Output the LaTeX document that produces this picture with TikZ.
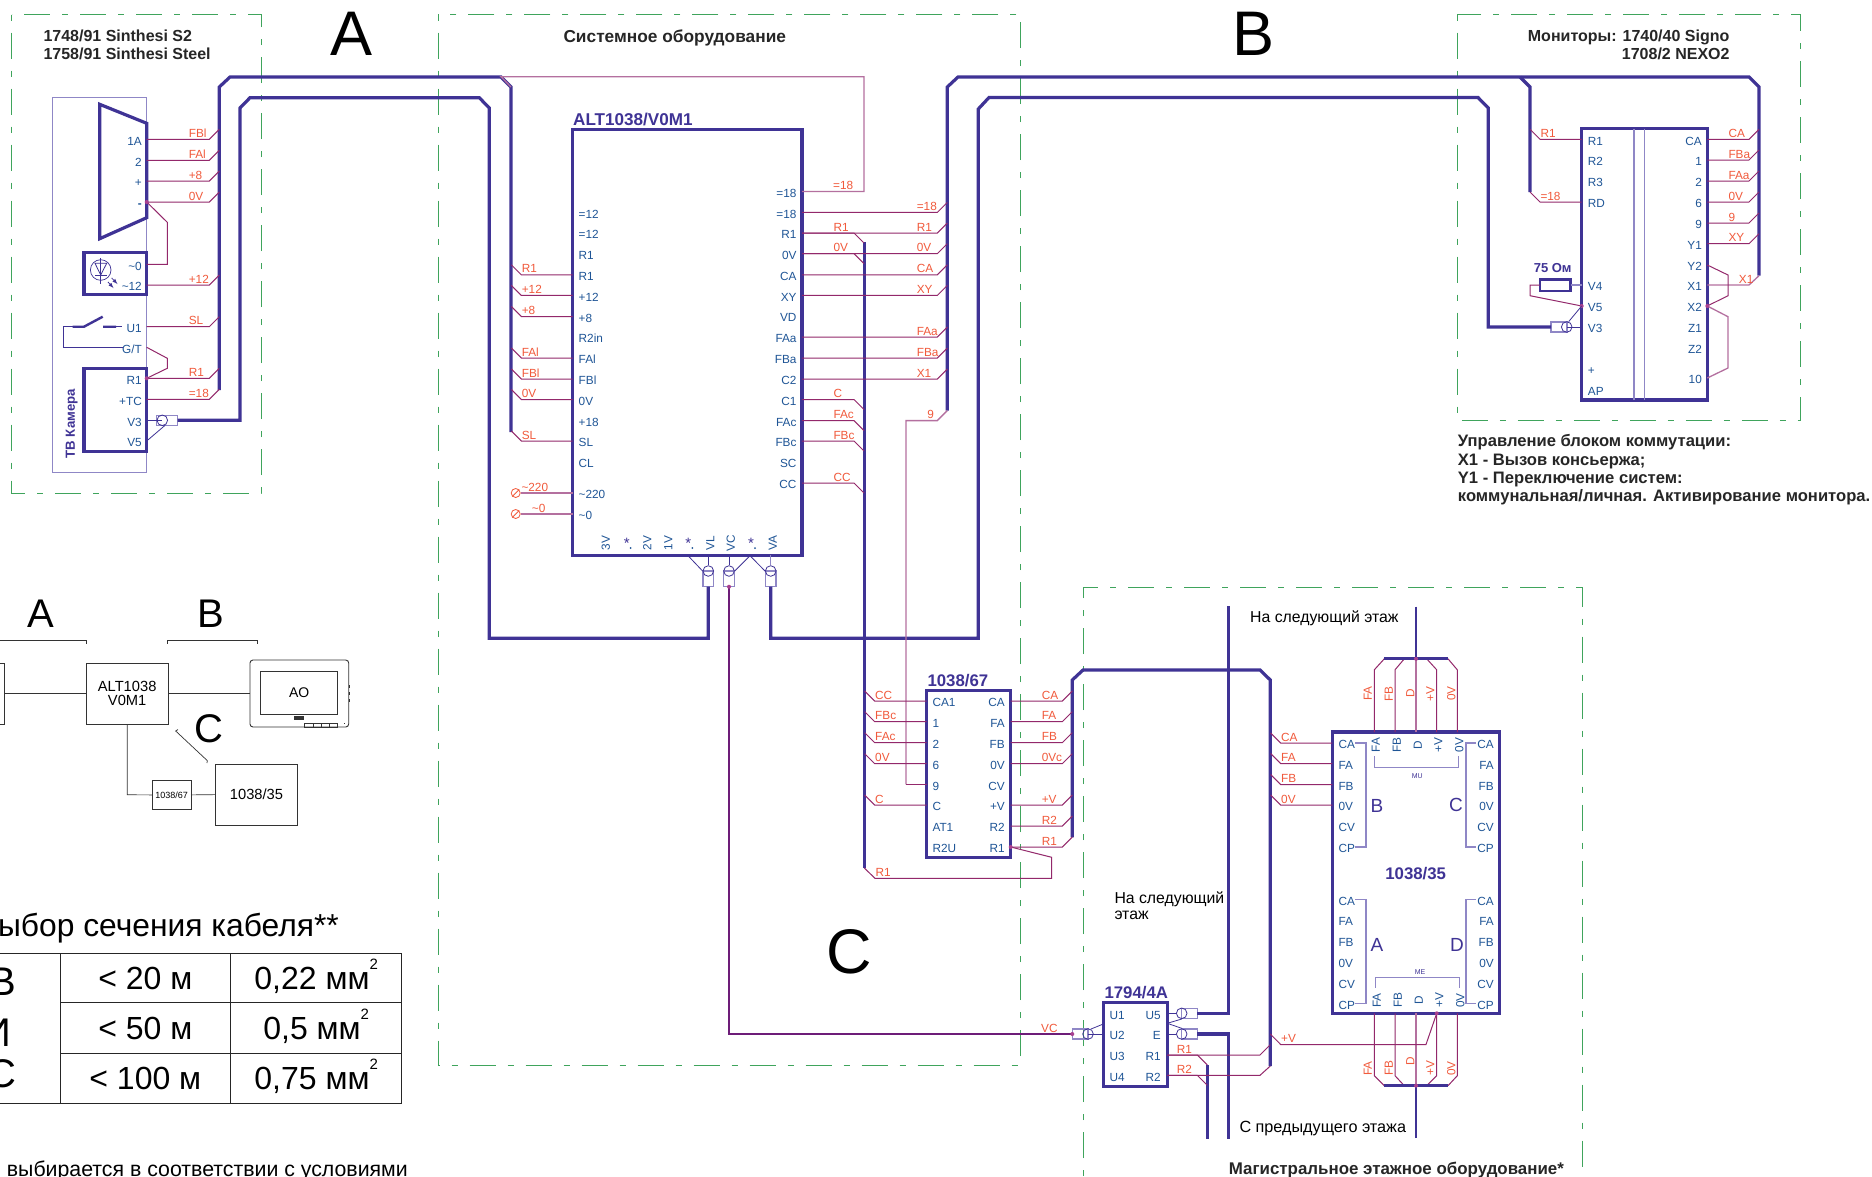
\documentclass[tikz,border=0pt]{standalone}
\usepackage{fontspec}
\setmainfont{Liberation Sans}
\definecolor{busblue}{HTML}{3F3395}
\definecolor{pinblue}{HTML}{1F5596}
\definecolor{sigred}{HTML}{F15A3C}
\definecolor{wirered}{HTML}{93286B}
\definecolor{wirepink}{HTML}{B4709F}
\definecolor{framegreen}{HTML}{3FA45C}
\definecolor{lilac}{HTML}{8F87C6}
\definecolor{dotmag}{HTML}{A8408F}
\definecolor{vcwire}{HTML}{6D1D78}
\newcommand{\tld}{\textasciitilde}
\newcommand{\fsize}[1]{\fontsize{#1}{#1}\selectfont}
\newcommand{\sq}{\smash{\raisebox{.62em}{\fsize{15}2}}}
\tikzset{%
  frame/.style={draw=framegreen,line width=.9pt,dash pattern=on 6pt off 12pt on 26pt off 12pt},
  bus/.style={draw=busblue,line width=3.2pt},
  wire/.style={draw=wirered,line width=1pt},
  wirepale/.style={draw=wirepink,line width=1.3pt},
  vcline/.style={draw=vcwire,line width=2.4pt},
  pinline/.style={draw=busblue,line width=.8pt},
  lilacline/.style={draw=lilac,line width=1.1pt},
  box/.style={draw=busblue,line width=3.2pt,inner sep=0,outer sep=0,anchor=north west},
  lilacbox/.style={draw=lilac,line width=1.1pt,inner sep=0,outer sep=0,anchor=north west},
  pin/.style={font=\fsize{11.8},text=pinblue,inner sep=0,text height=8.5pt,text depth=0pt,yshift=-1.5pt},
  pinv/.style={font=\fsize{11.8},text=pinblue,inner sep=0,text height=8.5pt,text depth=0pt,rotate=90},
  siglab/.style={font=\fsize{11.8},text=sigred,inner sep=0,anchor=base west,yshift=2pt},
  sigv/.style={font=\fsize{11.8},text=sigred,inner sep=0,text height=8.5pt,text depth=0pt,rotate=90},
  titleblue/.style={font=\bfseries\fsize{16.8},text=busblue,inner sep=0,anchor=base west},
  titleblack/.style={font=\bfseries\fsize{16},text=black!85,inner sep=0,anchor=base west},
  plain/.style={font=\fsize{15.8},text=black,inner sep=0,anchor=base west},
  bigletter/.style={font=\fsize{63},text=black,inner sep=0},
  ringc/.style={circle,draw=busblue,line width=.8pt,inner sep=0,minimum size=10.6pt},
  coaxb/.style={rectangle,draw=lilac,line width=1.1pt,inner sep=0,outer sep=0},
  dot/.style={circle,fill=dotmag,inner sep=0,minimum size=4pt},
  ovbox/.style={draw=black!80,line width=.7pt,inner sep=0,outer sep=0,anchor=north west,font=\fsize{14.7},align=center},
  ovline/.style={draw=black!80,line width=.7pt},
  cell/.style={draw=black!85,line width=.8pt,inner sep=0,outer sep=0,anchor=north west,font=\fsize{32}}
}
\newcommand{\sigL}[3]{\draw[wire] (#1) -- (#1 -| #2) node[siglab] (#1-#2) {#3} -- ++(-10,-10);}
\newcommand{\sigR}[4][-10]{\draw[wire] (#2) -- (#2 -| #3) node[siglab,xshift=-21pt] (#2-#3) {#4} -- ++(10,#1);}
\newcommand{\coaxH}[5]{%
  \node[coaxb,minimum width={(#3)-(#2)},minimum height=10pt] (#1-b) at ({((#2)+(#3))/2},#4) {};
  \node[ringc] (#1) at (#5,#4) {};}
\newcommand{\coaxV}[2]{%
  \node[coaxb,minimum width=10.6pt,minimum height=15.7pt,anchor=north] (#1-b) at (#2,571) {};
  \node[ringc] (#1) at (#2,571) {};}
\begin{document}
\begin{tikzpicture}[x=1pt,y=-1pt]
  \path[use as bounding box,fill=white] (0,0) rectangle (1872,1176);

  \draw[frame] (11.5,14.5) rectangle (261,493);
  \draw[frame] (438,14.5) rectangle (1020.7,1065);
  \draw[frame] (1457.3,14.5) rectangle (1800.7,420);
  \draw[frame] (1083,1176) -- (1083,587) -- (1582.3,587) -- (1582.3,1176);

  \node[bigletter] (letA) at (351.5,34) {A};
  \node[bigletter] (letB) at (1253.7,34) {B};
  \node[bigletter] (letC) at (849,951.6) {C};

  \node[titleblack] (camT1) at (43.3,41.7) {1748/91 Sinthesi S2};
  \node[titleblack] (camT2) at (43.3,59.3) {1758/91 Sinthesi Steel};
  \node[titleblack,font=\bfseries\fsize{17.3}] (sysT) at (563.3,42) {Системное оборудование};
  \node[titleblack] (monT1) at (1527.7,41.7) {Мониторы: 1740/40 Signo};
  \node[titleblack] (monT2) at (1621.7,59.3) {1708/2 NEXO2};
  \foreach \nm/\txt/\y in {noteA/Управление блоком коммутации:/446.7,noteB/X1 - Вызов консьержа;/465,
    noteC/Y1 - Переключение систем:/483.3,noteD/коммунальная{/}личная. Активирование монитора./501.7}{
    \node[titleblack,font=\bfseries\fsize{16.6}] (\nm) at (1457.7,\y) {\txt};
  }

  \coordinate (busA-s) at (219.3,390);
  \coordinate (busA-e) at (511,432);
  \draw[bus] (busA-s) -- (219.3,87) -- (230,77) -- (501,77) -- (511,87) -- (busA-e);
  \coordinate (busB-s) at (947.3,410.6);
  \coordinate (busB-e) at (1759,275.7);
  \draw[bus] (busB-s) -- (947.3,87) -- (958,77) -- (1749,77) -- (1759,87) -- (busB-e);
  \coordinate (busM-s) at (1520,77);
  \coordinate (busM-e) at (1530,192);
  \draw[bus] (busM-s) -- (1530,87) -- (busM-e);
  \coordinate (busC-s) at (864.3,242);
  \coordinate (busC-e) at (864.3,868);
  \draw[bus] (busC-s) -- (busC-e);
  \coordinate (busD-s) at (1072.3,837.3);
  \coordinate (busD-e) at (1270.3,1066);
  \draw[bus] (busD-s) -- (1072.3,680) -- (1083,670) -- (1260,670) -- (1270.3,680) -- (busD-e);

  \coordinate (kneeA) at (209.3,0);
  \coordinate (kneeL) at (521.3,0);
  \coordinate (kneeC) at (854,0);
  \coordinate (kneeB) at (937.3,0);
  \coordinate (kneeM) at (1540,0);
  \coordinate (kneeN) at (1749,0);
  \coordinate (kneeF) at (874.7,0);
  \coordinate (kneeG) at (1062.3,0);
  \coordinate (kneeD) at (1280.7,0);
  \coordinate (kneeR) at (1197.3,0);

  \node[lilacbox,minimum width=94pt,minimum height=374.6pt] (cam) at (52.7,97.7) {};
  \draw[bus] (99.7,104.3) -- (146.7,123.3) -- (146.7,217.7) -- (99.7,238.7) -- cycle;
  \node[box,minimum width=62.7pt,minimum height=42.4pt] (led) at (84,252.3) {};
  \node[box,minimum width=62.7pt,minimum height=83.4pt] (tvbox) at (84,368.3) {};
  \node[font=\bfseries\fsize{13.2},text=busblue,rotate=90,inner sep=0] (tvT) at (71.7,423.7) {ТВ Камера};
  \foreach \nm/\txt/\y in {a1/1A/139.3,a2/2/160.3,ap/+/181,am/{\textbf{-}}/202,lz/\tld0/264.3,lt/\tld12/285,
    u1/U1/326.7,gt/{G/T}/347.3,r1/R1/378.3,tc/+TC/399.3,v3/V3/420.3,v5/V5/441}{
    \coordinate (cam-\nm) at (146.7,\y);
    \node[pin,anchor=east] (camt-\nm) at (142,\y) {\txt};
  }
  \sigR{cam-a1}{kneeA}{FBl}
  \sigR{cam-a2}{kneeA}{FAl}
  \sigR{cam-ap}{kneeA}{+8}
  \sigR{cam-am}{kneeA}{0V}
  \sigR{cam-lt}{kneeA}{+12}
  \sigR{cam-u1}{kneeA}{SL}
  \sigR{cam-r1}{kneeA}{R1}
  \sigR{cam-tc}{kneeA}{=18}
  \draw[wire] (cam-am) -- (167.3,222.3) -- (167.3,264.3) -- (cam-lz);
  \draw[wire] (cam-gt) -- (167.3,358.3) -- (167.3,368.3) -- (cam-r1);
  \node[dot] (dotam) at (cam-am) {};
  \node[dot] (dotr1) at (cam-r1) {};
  \node[circle,draw=busblue,line width=.7pt,inner sep=0,minimum size=20.6pt] (ledc) at (100.7,270) {};
  \draw[pinline] (100.7,258) -- (100.7,284) (95,275) -- (106.7,275);
  \draw[pinline] (95,263.3) -- (106.7,263.3) -- (100.7,275) -- cycle;
  \draw[pinline,-latex] (111.7,278) -- (117.5,284);
  \draw[pinline,-latex] (108,282) -- (113.5,288);
  \coordinate (swA) at (122.7,347.3);
  \coordinate (swB) at (72.7,326.7);
  \draw[pinline] (swA) -- (63.3,347.3) -- (63.3,326.7) -- (swB);
  \draw[bus,line width=2.4pt] (swB) -- (84,326.7) -- (102.7,316.7) (103,326.7) -- (116,326.7);
  \draw[pinline] (116,326.7) -- (122,326.7);
  \coaxH{cxCam}{156.7}{177.7}{420.3}{162.3}
  \draw[pinline] (cam-v3) -- (cxCam.center);
  \draw[pinline] (cam-v5) -- (cxCam.-60);

  \node[box,minimum width=229.3pt,minimum height=425.9pt] (alt) at (572.7,129.4) {};
  \node[titleblue,font=\bfseries\fsize{17.1}] (altT) at (573,125) {ALT1038/V0M1};
  \foreach \nm/\txt/\y in {ea/=12/212.4,eb/=12/233,ra/R1/253.7,r1/R1/274.8,p12/+12/295.4,p8/+8/316.5,
    r2/R2in/337,fa/FAl/358,fb/FBl/379,ov/0V/399.5,p18/+18/420.6,sl/SL/441,cl/CL/462,t220/\tld220/493,tz/\tld0/514}{
    \coordinate (altL-\nm) at (572.7,\y);
    \node[pin,anchor=west] (altLt-\nm) at (578.5,\y) {\txt};
  }
  \foreach \nm/\txt/\y in {ea/=18/191.4,eb/=18/212.4,r1/R1/233,ov/0V/253.7,ca/CA/274.8,xy/XY/295.4,vd/VD/316,
    faa/FAa/337,fba/FBa/358,ctwo/C2/379,cone/C1/399.5,fac/FAc/420.6,fbc/FBc/441,sc/SC/462,cc/CC/483}{
    \coordinate (altR-\nm) at (802,\y);
    \node[pin,anchor=east] (altRt-\nm) at (796.7,\y) {\txt};
  }
  \foreach \nm/\txt/\x in {vtr/3V/605.7,vtw/2V/647,von/1V/668,vl/VL/710,vc/VC/730.7,va/VA/772.5}{
    \node[pinv] (altB-\nm) at (\x,543) {\txt};
  }
  \foreach \nm/\x in {sa/626.7,sb/688.3,sc/751}{
    \node[font=\fsize{15},text=busblue,inner sep=0] (\nm) at (\x,543) {*};
    \node[circle,fill=pinblue,inner sep=0,minimum size=2pt] (\nm-d) at (\x+4,548) {};
  }
  \sigL{altL-r1}{kneeL}{R1}
  \sigL{altL-p12}{kneeL}{+12}
  \sigL{altL-p8}{kneeL}{+8}
  \sigL{altL-fa}{kneeL}{FAl}
  \sigL{altL-fb}{kneeL}{FBl}
  \sigL{altL-ov}{kneeL}{0V}
  \sigL{altL-sl}{kneeL}{SL}
  \node[circle,draw=sigred,line width=.8pt,inner sep=0,minimum size=9pt] (t220) at (515.7,493) {};
  \node[circle,draw=sigred,line width=.8pt,inner sep=0,minimum size=9pt] (tz) at (515.7,514) {};
  \draw[sigred,line width=.8pt] (t220.south west) -- (t220.north east) (tz.south west) -- (tz.north east);
  \draw[wirepale] (altL-t220) -- (t220.east);
  \draw[wirepale] (altL-tz) -- (tz.east);
  \node[siglab] (lab220) at (521.3,493) {\tld220};
  \node[siglab] (labz) at (531.7,514) {\tld0};

  \draw[wirepale] (altR-ea) -- (864,191.4) -- (864,76.7) -- (501,76.7) -- (busA-e |- 0,87);
  \node[siglab,xshift=-21pt] (labea) at (854,191.4) {=18};
  \sigR{altR-eb}{kneeB}{=18}
  \sigR[10]{altR-r1}{kneeC}{R1}
  \sigR{altR-r1}{kneeB}{R1}
  \sigR[10]{altR-ov}{kneeC}{0V}
  \sigR{altR-ov}{kneeB}{0V}
  \sigR{altR-ca}{kneeB}{CA}
  \sigR{altR-xy}{kneeB}{XY}
  \sigR{altR-faa}{kneeB}{FAa}
  \sigR{altR-fba}{kneeB}{FBa}
  \sigR{altR-ctwo}{kneeB}{X1}
  \sigR[10]{altR-cone}{kneeC}{C}
  \sigR[10]{altR-fac}{kneeC}{FAc}
  \sigR[10]{altR-fbc}{kneeC}{FBc}
  \sigR[10]{altR-cc}{kneeC}{CC}

  \coaxV{cxVL}{708.3}
  \coaxV{cxVC}{729}
  \coaxV{cxVA}{770.7}
  \draw[pinline] (708.3,555.3) -- (cxVL.north);
  \draw[pinline] (729,555.3) -- (cxVC.north);
  \draw[lilacline] (770.7,555.3) -- (cxVA.north);
  \draw[pinline] (689,556.7) -- (cxVL.west);
  \draw[pinline] (749,556.7) -- (cxVC.east);
  \draw[pinline] (751,556.7) -- (cxVA.west);
  \draw[bus] (cxCam-b.east) -- (240,420.3) -- (240,108) -- (250,97.7) -- (479.3,97.7) -- (489.3,108) -- (489.3,638.3) -- (708.3,638.3) -- (cxVL-b.south);
  \node[box,minimum width=125.6pt,minimum height=271.3pt] (mon) at (1581.7,128.7) {};
  \draw[lilacline] (1634,128.7) -- (1634,400) (1644.7,128.7) -- (1644.7,400);
  \foreach \nm/\txt/\y in {r1/R1/139.3,r2/R2/160,r3/R3/181,rd/RD/202,v4/V4/285,v5/V5/306,v3/V3/327,pl/+/369,ap/AP/390}{
    \coordinate (monL-\nm) at (1581.7,\y);
    \node[pin,anchor=west] (monLt-\nm) at (1587.7,\y) {\txt};
  }
  \foreach \nm/\txt/\y in {ca/CA/139.3,a1/1/160,a2/2/181,a6/6/202,a9/9/223,y1/Y1/243.7,y2/Y2/265,x1/X1/285,x2/X2/306,z1/Z1/327,z2/Z2/348,a10/10/378}{
    \coordinate (monR-\nm) at (1707.3,\y);
    \node[pin,anchor=east] (monRt-\nm) at (1702,\y) {\txt};
  }
  \sigL{monL-r1}{kneeM}{R1}
  \sigL{monL-rd}{kneeM}{=18}
  \sigR{monR-ca}{kneeN}{CA}
  \sigR{monR-a1}{kneeN}{FBa}
  \sigR{monR-a2}{kneeN}{FAa}
  \sigR{monR-a6}{kneeN}{0V}
  \sigR{monR-a9}{kneeN}{9}
  \sigR{monR-y1}{kneeN}{XY}
  \draw[wirepale] (monR-x1) -- (1749,285) node[siglab,xshift=-10.7pt] (labx1) {X1} -- (busB-e);
  \draw[wire] (monR-y2) -- (1728,275) -- (1728,295.7) -- (monR-x2);
  \draw[wirepale] (monR-x2) -- (1728,316.7) -- (1728,368) -- (monR-a10);
  \node[dot] (dotx2) at (monR-x2) {};
  \node[draw=busblue,line width=2.4pt,inner sep=0,outer sep=0,minimum width=30.7pt,minimum height=11.4pt] (res) at (1555.3,285) {};
  \node[font=\bfseries\fsize{13},text=busblue,inner sep=0] (resT) at (1552.7,268) {75 Ом};
  \draw[lilacline] (res.east) -- (monL-v4);
  \draw[wire] (res.west) -- (1530,285) -- (1530,295.7) -- (monL-v5);
  \node[dot] (dotv5) at (monL-v5) {};
  \coaxH{cxMon}{1551}{1567}{327}{1566.7}
  \draw[pinline] (monL-v3) -- (cxMon.center);
  \draw[pinline] (monL-v5) -- (cxMon.70);
  \draw[bus] (cxMon-b.west) -- (1488.3,327) -- (1488.3,108) -- (1478,97.5) -- (989,97.5) -- (978.3,109) -- (978.3,638.3) -- (770.7,638.3) -- (cxVA-b.south);
  \draw[wirepale] (busB-s) -- (937.3,420.6) node[siglab,xshift=-10.7pt] (lab9) {9} -- (906,420.6) -- (906,784.3);

  \node[box,minimum width=84pt,minimum height=167pt] (sw) at (926.7,690.7) {};
  \node[titleblue] (swT) at (927.3,686) {1038/67};
  \foreach \nm/\txt/\y in {ca/CA1/701,a1/1/721.7,a2/2/742.7,a6/6/763.7,a9/9/784.3,cc/C/805,at/AT1/826,rt/R2U/847}{
    \coordinate (swL-\nm) at (926.7,\y);
    \node[pin,anchor=west] (swLt-\nm) at (932.3,\y) {\txt};
  }
  \foreach \nm/\txt/\y in {ca/CA/701,fa/FA/721.7,fb/FB/742.7,ov/0V/763.7,cv/CV/784.3,pv/+V/805,r2/R2/826,r1/R1/847}{
    \coordinate (swR-\nm) at (1010.7,\y);
    \node[pin,anchor=east] (swRt-\nm) at (1005,\y) {\txt};
  }
  \draw[wire] (906,784.3) -- (swL-a9);
  \sigL{swL-ca}{kneeF}{CC}
  \sigL{swL-a1}{kneeF}{FBc}
  \sigL{swL-a2}{kneeF}{FAc}
  \sigL{swL-a6}{kneeF}{0V}
  \sigL{swL-cc}{kneeF}{C}
  \sigR{swR-ca}{kneeG}{CA}
  \sigR{swR-fa}{kneeG}{FA}
  \sigR{swR-fb}{kneeG}{FB}
  \sigR{swR-ov}{kneeG}{0Vc}
  \sigR{swR-pv}{kneeG}{+V}
  \sigR{swR-r2}{kneeG}{R2}
  \sigR{swR-r1}{kneeG}{R1}
  \draw[wire] (swR-r1) -- (1051.7,857.3) -- (1051.7,878.3) -- (875,878.3) node[siglab] (labsr1) {R1} -- (busC-e);
  \node[dot] (dotsr1) at (swR-r1) {};

  \node[box,minimum width=167pt,minimum height=281.3pt] (dist) at (1332.3,732) {};
  \node[titleblue,anchor=center] (distT) at (1415.7,873.7) {1038/35};
  \foreach \g/\dy in {t/0,b/156.4}{
    \foreach \nm/\txt/\y in {ca/CA/743,fa/FA/763.5,fb/FB/784.5,ov/0V/805,cv/CV/826,cp/CP/847}{
      \coordinate (dist\g-\nm) at (1332.3,\y+\dy);
      \node[pin,anchor=west] (dist\g t-\nm) at (1338.3,\y+\dy) {\txt};
      \node[pin,anchor=east] (dist\g r-\nm) at (1494,\y+\dy) {\txt};
    }
    \draw[lilacline] (1355,743+\dy) -- (1366,743+\dy) -- (1366,847+\dy) -- (1355,847+\dy);
    \draw[lilacline] (1476,743+\dy) -- (1466,743+\dy) -- (1466,847+\dy) -- (1476,847+\dy);
  }
  \sigL{distt-ca}{kneeD}{CA}
  \sigL{distt-fa}{kneeD}{FA}
  \sigL{distt-fb}{kneeD}{FB}
  \sigL{distt-ov}{kneeD}{0V}
  \foreach \nm/\txt/\x in {fa/FA/1375.7,fb/FB/1396.5,dd/D/1417.7,pv/+V/1438,ov/0V/1459}{
    \node[pinv] (distu-\nm) at (\x,745) {\txt};
    \node[pinv] (distd-\nm) at (\x+1,1000.4) {\txt};
  }
  \foreach \nm/\txt/\x/\y in {lb/B/1377/805.7,lc/C/1456/805,la/A/1377/945,ld/D/1457/945}{
    \node[font=\fsize{19},text=busblue,inner sep=0] (dist-\nm) at (\x,\y) {\txt};
  }
  \draw[pinline,lilac] (1374,756) -- (1374,767) -- (1458.3,767) -- (1458.3,756);
  \draw[pinline,lilac] (1375,987.6) -- (1375,977.7) -- (1459.5,977.7) -- (1459.5,987.6);
  \node[font=\fsize{7},text=busblue,inner sep=0] (labmu) at (1417.3,776) {MU};
  \node[font=\fsize{7},text=busblue,inner sep=0] (labme) at (1420,971.8) {ME};
  \foreach \nm/\x/\xb/\a/\txt in {fa/1374.3/1384.3/1367.7/FA,fb/1395/1404.3/1388.7/FB,pv/1436.7/1426.7/1430/+V,ov/1457.3/1448/1451/0V}{
    \coordinate (distn-\nm) at (\x,732);
    \coordinate (dists-\nm) at (\x,1013.3);
    \draw[wire] (distn-\nm) -- (\x,669.8) -- (\xb,658.8);
    \draw[wire] (dists-\nm) -- (\x,1075.7) -- (\xb,1085.7);
    \node[sigv] (sigu-\nm) at (\a,693.7) {\txt};
    \node[sigv] (sigd-\nm) at (\a,1068.4) {\txt};
  }
  \coordinate (distn-dd) at (1416,732);
  \coordinate (dists-dd) at (1416,1013.3);
  \coordinate (topN) at (1416,606.6);
  \coordinate (topS) at (1416,1138);
  \draw[wirepale] (distn-dd) -- (1416,658.8);
  \draw[wirepale] (dists-dd) -- (1416,1085.7);
  \draw[bus] (1384,658.8) -- (1448.3,658.8);
  \draw[bus] (1384,1085.7) -- (1448.3,1085.7);
  \draw[bus,line width=2.5pt] (topN) -- (1416,658.8);
  \draw[bus,line width=2.5pt] (topS) -- (1416,1085.7);
  \node[dot] (dotN) at (1416,658.8) {};
  \node[dot] (dotS) at (1416,1085.7) {};
  \node[sigv] (sigu-dd) at (1410,693.7) {D};
  \node[sigv] (sigd-dd) at (1410,1061) {D};
  \draw[wire] (dists-pv) -- (1426,1044.5) -- (1280.7,1044.5) node[siglab] (labpv) {+V} -- (1270.3,1034);
  \node[dot] (dotpv) at (dists-pv) {};

  \node[box,minimum width=64pt,minimum height=84pt] (con) at (1103.3,1002.7) {};
  \node[titleblue] (conT) at (1104.3,998.3) {1794/4A};
  \foreach \nm/\txt/\y in {ua/U1/1013.3,ub/U2/1034,uc/U3/1055,ud/U4/1075.3}{
    \coordinate (conL-\nm) at (1103.3,\y);
    \node[pin,anchor=west] (conLt-\nm) at (1109.3,\y) {\txt};
  }
  \foreach \nm/\txt/\y in {ue/U5/1013.3,ee/E/1034,r1/R1/1055,r2/R2/1075.3}{
    \coordinate (conR-\nm) at (1167.3,\y);
    \node[pin,anchor=east] (conRt-\nm) at (1161,\y) {\txt};
  }
  \coaxH{cxU}{1181.7}{1197.3}{1013.3}{1181.7}
  \coaxH{cxE}{1181.7}{1197.3}{1034}{1181.7}
  \coaxH{cxIn}{1072.3}{1088}{1034}{1088}
  \draw[pinline] (conR-ue) -- (cxU.west);
  \draw[pinline] (conR-ee) -- (cxE.west);
  \draw[pinline] (1167.3,1023.3) -- (cxU.south);
  \draw[pinline] (1167.3,1023.3) -- (cxE.north);
  \draw[pinline] (conL-ub) -- (cxIn.center);
  \draw[pinline] (1103.3,1024) -- (cxIn.60);
  \coordinate (upE) at (1228.7,605.5);
  \coordinate (dnE) at (1228.7,1139);
  \coordinate (rbus-s) at (1207.7,1065);
  \coordinate (rbus-e) at (1207.7,1139);
  \draw[bus] (cxU-b.east) -- (1228.7,1013.3) -- (upE);
  \draw[bus] (cxE-b.east) -- (1228.7,1034) -- (dnE);
  \draw[bus] (rbus-s) -- (rbus-e);
  \draw[vcline] (cxVC-b.south) -- (729,1034) -- (cxIn-b.west);
  \node[dot] (dotvc) at (cxVC-b.south) {};
  \node[dot] (dotvi) at (cxIn-b.west) {};
  \node[siglab] (labvc) at (1041,1034) {VC};
  \sigR[10]{conR-r1}{kneeR}{R1}
  \sigR[10]{conR-r2}{kneeR}{R2}
  \draw[wire] (conR-r1) -- (1260,1055) -- (1270.3,1044.7);
  \draw[wire] (conR-r2) -- (1260,1075.3) -- (busD-e);

  \node[plain] (nextA) at (1250,622.8) {На следующий этаж};
  \node[plain] (nextB) at (1114.3,903.3) {На следующий};
  \node[plain] (nextC) at (1114.3,919.5) {этаж};
  \node[plain,font=\fsize{16.2}] (prev) at (1239.3,1132.7) {С предыдущего этажа};
  \node[titleblack,font=\bfseries\fsize{16.9}] (floorT) at (1228.7,1174) {Магистральное этажное оборудование*};

  \node[font=\fsize{40},inner sep=0] (ovA) at (40.5,614) {A};
  \node[font=\fsize{40},inner sep=0] (ovB) at (210.7,614) {B};
  \node[font=\fsize{40},inner sep=0] (ovC) at (208.5,729) {C};
  \draw[ovline] (0,640) -- (86.7,640) -- (86.7,643.5);
  \draw[ovline] (167.3,643.5) -- (167.3,640) -- (257,640) -- (257,643.5);
  \node[ovbox,minimum width=80pt,minimum height=61pt] (ovcam) at (-75.3,663) {};
  \node[ovbox,minimum width=81.7pt,minimum height=61pt] (ovalt) at (86.3,663) {ALT1038\\V0M1};
  \node[draw=black!80,line width=.9pt,rounded corners=3pt,inner sep=0,outer sep=0,anchor=north west,minimum width=98.7pt,minimum height=67pt] (ovmon) at (250,660) {};
  \node[ovbox,minimum width=77pt,minimum height=43.3pt,font=\fsize{14}] (ovscr) at (260.7,671.3) {AO};
  \fill[black!80] (294,716) rectangle (304,720);
  \draw[ovline] (304.7,723) rectangle (337.3,727) (313,723) -- (313,727) (321,723) -- (321,727) (329,723) -- (329,727);
  \fill[black!80] (343.6,723) rectangle (345,724.4);
  \draw[ovline,line width=1.2pt] (349.3,685) -- (349.3,688) (349.3,692) -- (349.3,695) (349.3,699) -- (349.3,702);
  \node[ovbox,minimum width=38.7pt,minimum height=29pt,font=\fsize{9}] (ovsw) at (152.3,780.4) {1038/67};
  \node[ovbox,minimum width=81.6pt,minimum height=61.2pt] (ovdist) at (215.7,764) {1038/35};
  \draw[ovline] (ovcam.east) -- (ovalt.west);
  \draw[ovline] (ovalt.east) -- (ovmon.west);
  \draw[ovline] (ovalt.south) -- (127.3,794.8) -- (ovsw.west);
  \draw[ovline] (ovsw.east) -- (ovdist.west);
  \draw[ovline] (178,729.5) -- (175.7,731) -- (207.3,760.6) -- (207,763);

  \node[font=\fsize{31.8},inner sep=0,anchor=base east] (tabT) at (339,936) {ыбор сечения кабеля**};
  \node[cell,minimum width=160pt,minimum height=149.8pt] (tabL) at (-100,953.8) {};
  \node[font=\fsize{40},inner sep=0,anchor=east] (rowA) at (16,982) {В};
  \node[font=\fsize{40},inner sep=0,anchor=east] (rowB) at (11.7,1032.5) {И};
  \node[font=\fsize{40},inner sep=0,anchor=east] (rowC) at (16.7,1073.5) {С};
  \node[cell,minimum width=170.7pt,minimum height=49pt,text depth=0pt] (tabD1) at (60,953.8) {< 20 м};
  \node[cell,minimum width=170.7pt,minimum height=50.6pt,text depth=0pt] (tabD2) at (60,1002.8) {< 50 м};
  \node[cell,minimum width=170.7pt,minimum height=50.2pt,text depth=0pt] (tabD3) at (60,1053.4) {< 100 м};
  \node[cell,minimum width=171pt,minimum height=49pt,text depth=0pt] (tabS1) at (230.7,953.8) {0,22 мм\sq};
  \node[cell,minimum width=171pt,minimum height=50.6pt,text depth=0pt] (tabS2) at (230.7,1002.8) {0,5 мм\sq};
  \node[cell,minimum width=171pt,minimum height=50.2pt,text depth=0pt] (tabS3) at (230.7,1053.4) {0,75 мм\sq};
  \node[font=\fsize{21.3},inner sep=0,anchor=base west] (tabN) at (6.7,1176) {выбирается в соответствии с условиями};
\end{tikzpicture}
\end{document}
